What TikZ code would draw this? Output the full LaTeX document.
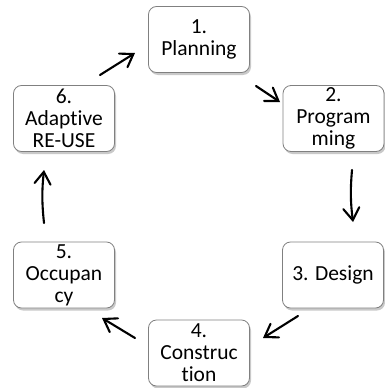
\documentclass[tikz,border=0pt]{standalone}
\usepackage{fontspec}
\setmainfont[Ligatures=NoCommon]{Carlito}
\usetikzlibrary{shadows,arrows.meta}
\begin{document}
\begin{tikzpicture}[x=1pt,y=-1pt,
 stage/.style={draw=black!50, line width=0.8pt, rounded corners=8pt, fill=white,
   minimum width=101pt, minimum height=66pt, inner sep=0pt, align=center,
   font=\fontsize{21.5}{22}\selectfont,
   drop shadow={shadow xshift=1.5pt, shadow yshift=-2.5pt, opacity=0.3, fill=black!70}},
 flow/.style={line width=2.1pt, line cap=round,
   -{Straight Barb[length=12pt, width=16pt, line cap=round]}}]
\useasboundingbox (0,0) rectangle (384,388);
\node[stage] (s1) at (199,39.5) {1.\\Planning};
\node[stage] (s2) at (333.5,118.5) {2.\\Program\\ming};
\node[stage] (s3) at (333,275) {3. Design};
\node[stage] (s4) at (199,353) {4.\\Construc\\tion};
\node[stage] (s5) at (64,275) {5.\\Occupan\\cy};
\node[stage] (s6) at (64,118.5) {6.\\Adaptive\\RE-USE};
\coordinate (a1) at (256,86);  \coordinate (b1) at (280,102);
\coordinate (a2) at (352,170); \coordinate (b2) at (353,222);
\coordinate (a3) at (298,316); \coordinate (b3) at (263,338);
\coordinate (a4) at (135,338); \coordinate (b4) at (102,318);
\coordinate (a5) at (44,223);  \coordinate (b5) at (44,170);
\coordinate (a6) at (100,75);  \coordinate (b6) at (135,53);
\draw[flow] (a1) -- (b1);
\draw[flow] (a2) to[bend right=6] (b2);
\draw[flow] (a3) -- (b3);
\draw[flow] (a4) -- (b4);
\draw[flow] (a5) to[bend left=6] (b5);
\draw[flow] (a6) -- (b6);
\end{tikzpicture}
\end{document}
